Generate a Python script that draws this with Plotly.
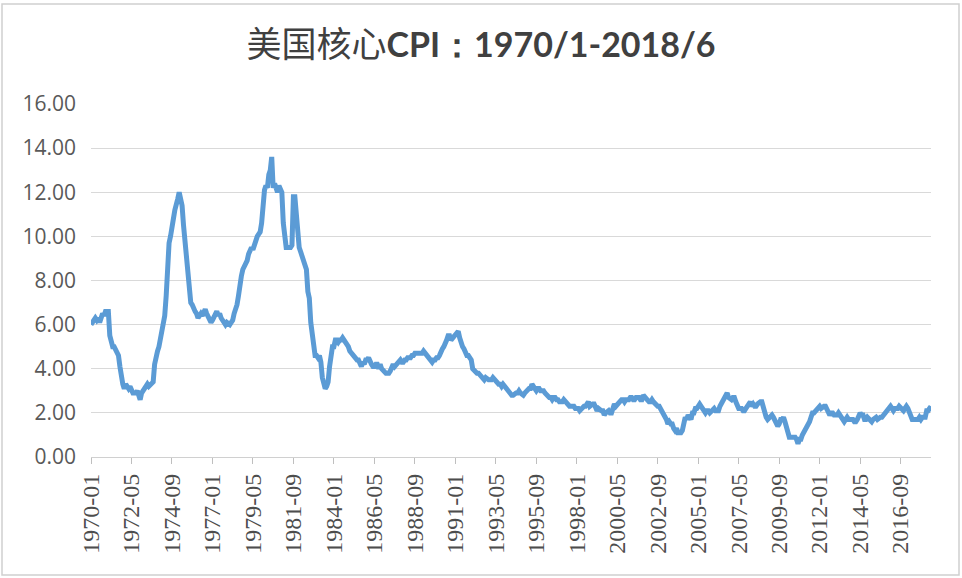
import plotly.graph_objects as go

# Monthly US core CPI YoY (%) 1970-01 .. 2018-06
years = list(range(1970, 2019))
v1970 = [6.0, 6.1, 6.2, 6.3, 6.2, 6.3, 6.1, 6.4, 6.5, 6.4, 6.6, 6.6]
v1971 = [6.6, 5.5, 5.2, 5.0, 5.0, 4.9, 4.8, 4.6, 4.1, 3.4, 3.3, 3.1]
v1972 = [3.3, 3.2, 3.1, 3.2, 3.0, 2.9, 2.9, 2.9, 3.0, 2.8, 2.6, 2.9]
v1973 = [3.0, 3.1, 3.2, 3.3, 3.2, 3.3, 3.3, 3.4, 4.2, 4.6, 4.8, 5.0]
v1974 = [5.4, 5.7, 5.9, 6.4, 7.3, 8.6, 9.7, 10.0, 10.3, 10.8, 11.2, 11.4]
v1975 = [11.7, 12.0, 11.7, 11.4, 10.5, 9.8, 9.1, 7.8, 7.3, 7.0, 6.9, 6.7]
v1976 = [6.6, 6.5, 6.3, 6.4, 6.5, 6.4, 6.6, 6.7, 6.5, 6.4, 6.2, 6.1]
v1977 = [6.2, 6.3, 6.5, 6.6, 6.4, 6.5, 6.3, 6.2, 6.1, 6.0, 6.1, 6.0]
v1978 = [6.0, 6.1, 6.2, 6.5, 6.7, 6.9, 7.3, 7.9, 8.2, 8.5, 8.6, 8.7]
v1979 = [8.9, 9.2, 9.4, 9.5, 9.4, 9.6, 9.9, 10.0, 10.1, 10.2, 10.6, 11.9]
v1980 = [12.1, 12.3, 12.2, 12.8, 13.0, 13.6, 12.2, 12.4, 12.1, 12.0, 12.3, 12.2]
v1981 = [12.0, 10.6, 10.0, 9.5, 9.5, 9.5, 9.5, 9.6, 11.8, 11.8, 11.0, 10.2]
v1982 = [9.5, 9.3, 9.1, 8.9, 8.8, 8.5, 7.5, 7.2, 6.1, 5.4, 4.8, 4.6]
v1983 = [4.6, 4.5, 4.6, 4.3, 3.6, 3.3, 3.1, 3.2, 3.4, 4.1, 4.7, 5.0]
v1984 = [5.0, 5.3, 5.3, 5.2, 5.3, 5.3, 5.4, 5.3, 5.3, 5.2, 5.0, 4.8]
v1985 = [4.7, 4.6, 4.6, 4.4, 4.4, 4.4, 4.2, 4.1, 4.3, 4.2, 4.4, 4.4]
v1986 = [4.5, 4.3, 4.2, 4.1, 4.1, 4.2, 4.2, 4.0, 4.2, 4.0, 3.9, 3.8]
v1987 = [3.8, 3.8, 3.8, 3.9, 4.0, 4.2, 4.1, 4.2, 4.3, 4.3, 4.4, 4.3]
v1988 = [4.3, 4.4, 4.4, 4.5, 4.5, 4.5, 4.6, 4.6, 4.7, 4.7, 4.7, 4.7]
v1989 = [4.7, 4.7, 4.8, 4.7, 4.7, 4.6, 4.5, 4.3, 4.3, 4.4, 4.4, 4.5]
v1990 = [4.5, 4.6, 4.8, 4.9, 5.0, 5.1, 5.3, 5.5, 5.5, 5.3, 5.4, 5.4]
v1991 = [5.5, 5.6, 5.7, 5.4, 5.1, 5.0, 4.9, 4.7, 4.6, 4.6, 4.5, 4.4]
v1992 = [4.0, 3.9, 3.9, 3.8, 3.8, 3.7, 3.6, 3.6, 3.5, 3.6, 3.5, 3.5]
v1993 = [3.5, 3.5, 3.6, 3.5, 3.4, 3.4, 3.3, 3.3, 3.2, 3.3, 3.2, 3.2]
v1994 = [3.0, 2.9, 2.9, 2.8, 2.8, 2.9, 2.9, 2.9, 3.0, 2.9, 2.8, 2.8]
v1995 = [2.9, 3.0, 3.0, 3.1, 3.1, 3.3, 3.2, 3.1, 3.0, 3.1, 3.1, 3.0]
v1996 = [3.0, 3.0, 2.9, 2.8, 2.7, 2.7, 2.7, 2.6, 2.7, 2.7, 2.6, 2.6]
v1997 = [2.5, 2.5, 2.5, 2.6, 2.5, 2.4, 2.4, 2.3, 2.3, 2.3, 2.3, 2.2]
v1998 = [2.2, 2.2, 2.1, 2.2, 2.2, 2.3, 2.3, 2.4, 2.5, 2.3, 2.4, 2.4]
v1999 = [2.4, 2.2, 2.1, 2.2, 2.1, 2.1, 2.1, 1.9, 2.0, 2.1, 2.1, 2.0]
v2000 = [2.0, 2.2, 2.4, 2.3, 2.4, 2.4, 2.5, 2.6, 2.6, 2.5, 2.6, 2.6]
v2001 = [2.6, 2.7, 2.7, 2.6, 2.6, 2.7, 2.7, 2.7, 2.6, 2.6, 2.8, 2.7]
v2002 = [2.7, 2.6, 2.5, 2.5, 2.6, 2.5, 2.4, 2.4, 2.3, 2.3, 2.2, 2.0]
v2003 = [1.9, 1.8, 1.7, 1.5, 1.6, 1.5, 1.5, 1.3, 1.2, 1.3, 1.1, 1.1]
v2004 = [1.1, 1.2, 1.6, 1.8, 1.7, 1.9, 1.8, 1.7, 2.0, 2.0, 2.2, 2.2]
v2005 = [2.3, 2.4, 2.3, 2.2, 2.2, 2.0, 2.1, 2.1, 2.0, 2.1, 2.1, 2.2]
v2006 = [2.1, 2.1, 2.1, 2.3, 2.4, 2.6, 2.7, 2.8, 2.9, 2.7, 2.6, 2.6]
v2007 = [2.7, 2.7, 2.5, 2.3, 2.2, 2.2, 2.2, 2.1, 2.1, 2.2, 2.3, 2.4]
v2008 = [2.5, 2.3, 2.4, 2.3, 2.3, 2.4, 2.5, 2.5, 2.5, 2.2, 2.0, 1.8]
v2009 = [1.7, 1.8, 1.8, 1.9, 1.8, 1.7, 1.5, 1.4, 1.5, 1.7, 1.7, 1.8]
v2010 = [1.6, 1.3, 1.1, 0.9, 0.9, 0.9, 0.9, 0.9, 0.8, 0.6, 0.8, 0.8]
v2011 = [1.0, 1.1, 1.2, 1.3, 1.5, 1.6, 1.8, 2.0, 2.0, 2.1, 2.2, 2.2]
v2012 = [2.3, 2.2, 2.3, 2.3, 2.3, 2.2, 2.1, 1.9, 2.0, 2.0, 1.9, 1.9]
v2013 = [1.9, 2.0, 1.9, 1.7, 1.7, 1.6, 1.7, 1.8, 1.7, 1.7, 1.7, 1.7]
v2014 = [1.6, 1.6, 1.7, 1.8, 2.0, 1.9, 1.9, 1.7, 1.7, 1.8, 1.7, 1.6]
v2015 = [1.6, 1.7, 1.8, 1.8, 1.7, 1.8, 1.8, 1.8, 1.9, 1.9, 2.0, 2.1]
v2016 = [2.2, 2.3, 2.2, 2.1, 2.2, 2.2, 2.2, 2.3, 2.2, 2.1, 2.1, 2.2]
v2017 = [2.3, 2.2, 2.0, 1.9, 1.7, 1.7, 1.7, 1.7, 1.7, 1.8, 1.7, 1.8]
v2018 = [1.8, 1.8, 2.1, 2.1, 2.2, 2.3]

yearly = [v1970, v1971, v1972, v1973, v1974, v1975, v1976, v1977, v1978, v1979,
          v1980, v1981, v1982, v1983, v1984, v1985, v1986, v1987, v1988, v1989,
          v1990, v1991, v1992, v1993, v1994, v1995, v1996, v1997, v1998, v1999,
          v2000, v2001, v2002, v2003, v2004, v2005, v2006, v2007, v2008, v2009,
          v2010, v2011, v2012, v2013, v2014, v2015, v2016, v2017, v2018]

months = []
values = []
for y, vals in zip(years, yearly):
    for i, v in enumerate(vals):
        months.append(f"{y}-{i + 1:02d}")
        values.append(v)

tick_labels = months[::28]
y_ticks = [0, 2, 4, 6, 8, 10, 12, 14, 16]

title_cjk = "美国核心"
title_latin = "CPI：1970/1-2018/6"

W, H = 962, 578
ML, MR, MT, MB = 91, 31, 104, 121

fig = go.Figure()
fig.add_trace(go.Scatter(
    x=months, y=values, mode="lines",
    line=dict(color="#5B9BD5", width=5),
    hoverinfo="x+y", showlegend=False,
))

pw = W - ML - MR
ph = H - MT - MB
fig.add_shape(type="rect", xref="paper", yref="paper",
              x0=(2 - ML) / pw, x1=(W - 3 - ML) / pw,
              y0=-(H - 3 - MT - ph) / ph, y1=1 + (MT - 4) / ph,
              line=dict(color="#d0d0d0", width=1.5), layer="below")

title_html = (
    f"<span style='font-family:\"Noto Sans CJK SC\";font-size:35px'>{title_cjk}</span>"
    f"<b>{title_latin}</b>"
)

fig.update_layout(
    width=W, height=H,
    margin=dict(l=ML, r=MR, t=MT, b=MB),
    paper_bgcolor="white", plot_bgcolor="white",
    title=dict(text=title_html, x=0.5, xref="container",
               y=0.922, yref="container", xanchor="center", yanchor="middle",
               font=dict(family="Lato", size=34, color="#404040")),
    xaxis=dict(
        type="category", range=[0, len(months) - 1],
        tickmode="array", tickvals=tick_labels, ticktext=tick_labels,
        tickangle=-90, ticks="outside", ticklen=6, tickcolor="#bfbfbf",
        showline=True, linecolor="#d0d0d0", linewidth=1.3,
        showgrid=False, zeroline=False,
        tickfont=dict(family="Liberation Serif", size=24, color="#4d4d4d"),
        ticklabelstandoff=0,
    ),
    yaxis=dict(
        range=[0, 16], tickmode="array", tickvals=y_ticks,
        tickformat=".2f", showgrid=True, gridcolor="#d9d9d9", gridwidth=1,
        zeroline=False, showline=False, ticks="",
        tickfont=dict(family="Open Sans", size=21, color="#595959"),
        ticklabelstandoff=14,
    ),
)

fig.write_html("out.html", config={"displayModeBar": False},
               post_script="document.body.style.margin='0';")
